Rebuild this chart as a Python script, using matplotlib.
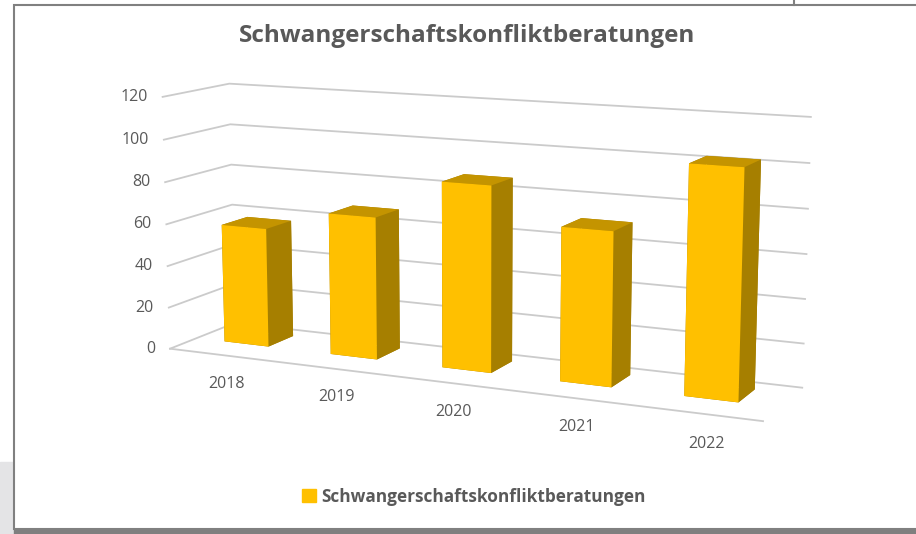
import numpy as np
import matplotlib.pyplot as plt
from matplotlib.patches import Rectangle, Patch
from matplotlib import transforms
from mpl_toolkits.mplot3d import proj3d

# data
years = ['2018', '2019', '2020', '2021', '2022']
beratungen = [57, 67, 86, 70, 102]
z_ticks = [0, 20, 40, 60, 80, 100, 120]
title = 'Schwangerschaftskonfliktberatungen'

front_col = '#FFC000'
side_col = '#A67F00'
top_col = '#C49400'
text_col = '#595959'
grid_col = '#cbcbcb'

plt.rcParams['font.family'] = ['Open Sans', 'DejaVu Sans']

fig = plt.figure(figsize=(9.16, 5.34), dpi=100)
W, H = 916, 534

# page background bits and chart frame
fig.patches.append(Rectangle((0, 0), 14 / W, 72 / H, transform=fig.transFigure,
                             color='#e4e4e6', zorder=-3))
fig.patches.append(Rectangle((14 / W, 0), 1, 5 / H, transform=fig.transFigure,
                             color='#7f7f7f', zorder=-3))
fig.patches.append(Rectangle((14 / W, 5 / H), 1, 1 - 10 / H, transform=fig.transFigure,
                             facecolor='white', edgecolor='#808080', lw=1.5, zorder=-2))
fig.lines.append(plt.Line2D([794 / W, 794 / W], [1 - 5 / H, 1], transform=fig.transFigure,
                            color='#808080', lw=1.5))

# square 3d axes, centred on the middle of the plot box
cx, cy = 462 / W, 1 - 251 / H
ax = fig.add_axes([cx - 0.5, cy - 0.5 * W / H, 1, W / H], projection='3d',
                  computed_zorder=False)
ax.set_proj_type('persp', focal_length=0.41)
ax.view_init(elev=11, azim=-65)
ax.set_box_aspect((5, 1, 2.06), zoom=0.752)
ax.set_xlim(0, 5)
ax.set_ylim(0, 1)
ax.set_zlim(0, 120)
ax.set_axis_off()
ax.patch.set_alpha(0)

# walls gridlines (left and back) and floor front edge
for t in z_ticks:
    ax.plot([0, 0, 5], [0, 1, 1], [t, t, t], color=grid_col, lw=1.3, zorder=1)
ax.plot([0, 5], [0, 0], [0, 0], color=grid_col, lw=1.3, zorder=1)

# bars
n = len(years)
xs = np.arange(n) + 0.27
face_colors = []
for i in range(n):
    # order: bottom, top, front, back, left, right
    face_colors += [side_col, top_col, front_col, side_col, side_col, side_col]
ax.bar3d(xs, np.full(n, 0.4), np.zeros(n), 0.42, 0.4, beratungen,
         color=face_colors, shade=False, zorder=2)

# labels: project the 3d anchor points, then place ordinary 2d texts
fig.canvas.draw()
M = ax.get_proj()


def to_2d(x, y, z):
    px, py, _ = proj3d.proj_transform(x, y, z, M)
    return px, py


tick_tr = transforms.offset_copy(ax.transData, fig=fig, x=-15, y=0, units='dots')
for t in z_ticks:
    px, py = to_2d(0, 0, t)
    fig.text(px, py, str(t), transform=tick_tr, ha='right', va='center',
             color=text_col, fontsize=11.5)

cat_tr = transforms.offset_copy(ax.transData, fig=fig, x=24, y=-20, units='dots')
for i, yr in enumerate(years):
    px, py = to_2d(i + 0.5, -0.3, 0)
    fig.text(px, py, yr, transform=cat_tr, ha='center', va='center',
             color=text_col, fontsize=11.5)

fig.text(0.51, 0.932, title, ha='center', va='center', fontsize=17.5,
         fontweight='bold', color=text_col)
fig.legend(handles=[Patch(color=front_col, label=title)], loc='center',
           bbox_to_anchor=(0.517, 0.07), frameon=False, handlelength=0.8,
           handleheight=0.8, handletextpad=0.3,
           prop={'weight': 'bold', 'size': 12.4})
for t in fig.legends[0].get_texts():
    t.set_color(text_col)

fig.savefig('out.png', dpi=100)
